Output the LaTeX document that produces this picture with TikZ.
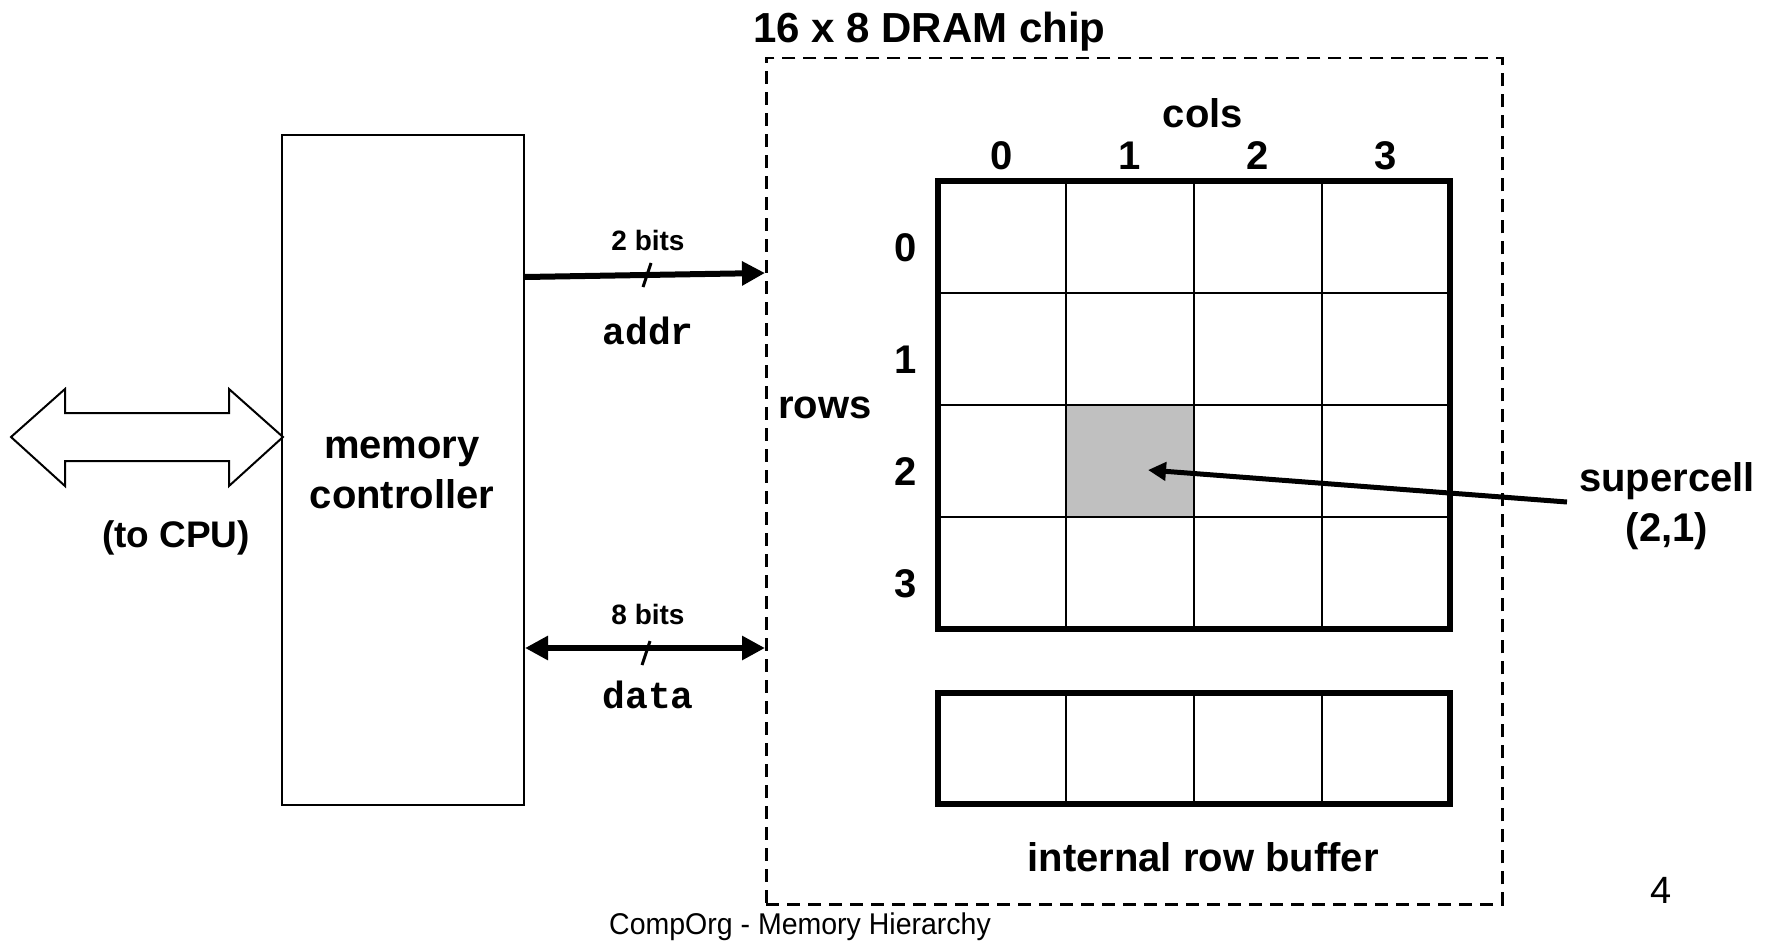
\documentclass[tikz,border=0pt]{standalone}
\usepackage{fontspec}
\setmainfont{Liberation Sans}
\setmonofont{Liberation Mono}
\usepackage{tikz}
\usetikzlibrary{arrows.meta, positioning, calc}
\definecolor{cellgray}{RGB}{192,192,192}

\begin{document}
\begin{tikzpicture}[x=1pt,y=-1pt,
  lbl/.style={font=\fontsize{40}{50}\selectfont\bfseries, inner sep=0pt},
  small/.style={font=\fontsize{28}{32}\selectfont\bfseries, inner sep=0pt},
  code/.style={font=\fontsize{38}{44}\selectfont\ttfamily\bfseries, inner sep=0pt},
  bus/.style={line width=6pt, -{Triangle[length=23pt,width=23pt]}},
  tick/.style={line width=3pt}]
\useasboundingbox (0,0) rectangle (1776,942);

% CPU side
\draw[line width=2pt, fill=white] (11,437) -- (65,389) -- (65,413) -- (229,413) -- (229,389)
  -- (283,437) -- (229,486) -- (229,461) -- (65,461) -- (65,486) -- cycle;
\node[lbl, font=\fontsize{37}{46}\selectfont\bfseries] (cpu) at (176,538) {(to CPU)};

% Memory controller
\node[draw, line width=2pt, minimum width=242pt, minimum height=670pt, inner sep=0pt, anchor=north west] (ctrl) at (281,134) {};
\node[lbl, align=center] (ctrltxt) at (402,473) {memory\\controller};

% DRAM chip
\node[draw, line width=2.5pt, dash pattern=on 13pt off 8pt, minimum width=736pt, minimum height=846pt, inner sep=0pt, anchor=north west] (chip) at (765,57) {};
\node[lbl, font=\fontsize{42}{50}\selectfont\bfseries, anchor=base west] (chiptitle) at (753,42) {16 x 8 DRAM chip};

% Supercell array
\node[fill=cellgray, minimum width=128pt, minimum height=112pt, inner sep=0pt] (cell21) at (1130,461) {};
\foreach \i in {1,2,3} {
  \draw[line width=2.5pt] ({938+128*\i},181) -- ++(0,448);
  \draw[line width=2.5pt] (938,{181+112*\i}) -- ++(512,0);
}
\draw[line width=6pt] (938,181) rectangle (1450,629);
\foreach \c in {0,...,3}
  \node[lbl] (col\c) at ({1002+128*\c},156) {\c};
\foreach \r in {0,...,3}
  \node[lbl] (row\r) at (906,{248+112*\r}) {\r};
\node[lbl] (cols) at (1203,113) {cols};
\node[lbl] (rows) at (825,408) {rows};

% Row buffer
\foreach \i in {1,2,3}
  \draw[line width=2.5pt] ({938+128*\i},693) -- ++(0,111);
\draw[line width=6pt] (938,693) rectangle (1450,804);
\node[lbl] (buftxt) at (1203,857) {internal row buffer};

% Supercell label
\node[lbl, align=center] (sc) at (1667,506) {supercell\\(2,1)};
\coordinate (sctip) at (1148,470);
\draw[line width=5pt, -{Triangle[length=18pt,width=18pt]}] ([xshift=-12pt,yshift=4pt]sc.west) -- (sctip);

% Address and data buses
\coordinate (addrin) at ($(chip.north west)+(0,216)$);
\draw[bus] ($(ctrl.north east)+(0,143)$) -- (addrin);
\draw[tick] (643,287) -- (651,263);
\node[small] (addrw) at (648,240) {2 bits};
\node[code] (addr) at (648,331) {addr};

\coordinate (datain) at ($(chip.north west)+(0,591)$);
\draw[bus, {Triangle[length=23pt,width=23pt]}-{Triangle[length=23pt,width=23pt]}] ($(ctrl.north east)+(0,514)$) -- (datain);
\draw[tick] (642,665) -- (650,641);
\node[small] (dataw) at (648,614) {8 bits};
\node[code] (data) at (648,695) {data};

% Footer
\node[font=\fontsize{30}{36}\selectfont, inner sep=0pt, xscale=0.95] (footer) at (800,927) {CompOrg - Memory Hierarchy};
\node[font=\fontsize{38}{40}\selectfont, inner sep=0pt] (pagenum) at (1661,890) {4};
\end{tikzpicture}
\end{document}
